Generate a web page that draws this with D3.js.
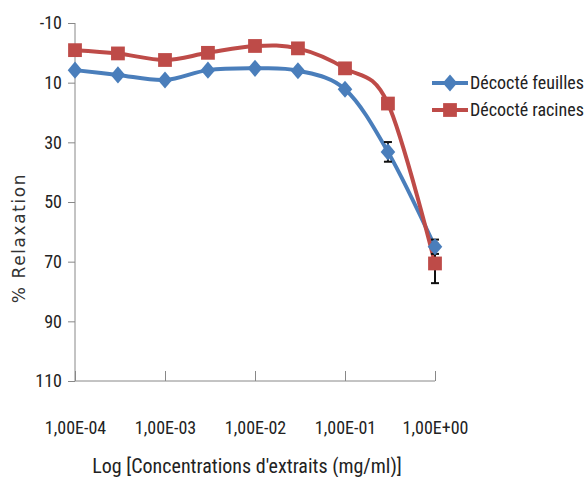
<!DOCTYPE html>
<html><head><meta charset="utf-8">
<script src="https://cdn.jsdelivr.net/npm/d3@7"></script>
<style>body{margin:0;background:#fff}</style>
</head><body>
<svg id="c" width="585" height="477"></svg>
<script>
const concentrations = [1e-4, 3e-4, 1e-3, 3e-3, 1e-2, 3e-2, 1e-1, 3e-1, 1];
const feuilles = [5.8, 7.4, 9.1, 5.8, 5.2, 6.0, 12.2, 33.2, 65.0];
const feuillesErr = [0, 0, 0, 0, 0, 0, 0, 3.3, 2.4];
const racines = [-0.9, 0.2, 2.4, 0.0, -2.3, -1.5, 5.2, 17.0, 70.6];
const racinesErr = [0, 0, 0, 0, 0, 0, 0, 0, 6.6];
const yTicks = [-10, 10, 30, 50, 70, 90, 110];
const xTicks = [1e-4, 1e-3, 1e-2, 1e-1, 1];
const xTickLabels = ["1,00E-04", "1,00E-03", "1,00E-02", "1,00E-01", "1,00E+00"];
const seriesNames = ["Décocté feuilles", "Décocté racines"];

const svg = d3.select("#c");
const narrow = "'Liberation Sans Narrow','Roboto Condensed','Open Sans',sans-serif";
const x = d3.scaleLog().domain([1e-4, 1]).range([75, 435]);
const y = d3.scaleLinear().domain([-10, 110]).range([23, 381]);

// axes
const yAxis = svg.append("g").attr("transform", "translate(75,0)")
  .call(d3.axisLeft(y).tickValues(yTicks).tickFormat(d => String(d)).tickSize(7).tickPadding(6));
yAxis.select(".domain").attr("stroke", "#888").attr("d", "M0,23V381");
yAxis.selectAll(".tick line").attr("stroke", "#888");
yAxis.selectAll("text").attr("font-family", narrow).attr("font-size", 18).attr("fill", "#222");

const xAxis = svg.append("g").attr("transform", "translate(0,381)")
  .call(d3.axisBottom(x).tickValues(xTicks).tickFormat((d, i) => xTickLabels[i]).tickSize(-10).tickPadding(40));
xAxis.select(".domain").attr("stroke", "#888").attr("d", "M75,0H435");
xAxis.selectAll(".tick line").attr("stroke", "#888");
xAxis.selectAll("text").attr("font-family", narrow).attr("font-size", 18).attr("fill", "#222");

// titles
svg.append("text").attr("x", 247).attr("y", 473).attr("text-anchor", "middle")
  .attr("font-family", narrow).attr("font-size", 20).attr("fill", "#222")
  .text("Log [Concentrations d'extraits (mg/ml)]");
svg.append("text").attr("transform", "translate(25,238) rotate(-90)").attr("text-anchor", "middle")
  .attr("font-family", "'DejaVu Sans',Verdana,sans-serif").attr("font-size", 17).attr("letter-spacing", 1.6).attr("fill", "#333")
  .text("% Relaxation");

const colors = ["#4a7ebb", "#be4b48"];
const data = [feuilles, racines];
const errs = [feuillesErr, racinesErr];
const line = d3.line().x((d, i) => x(concentrations[i])).y(d => y(d)).curve(d3.curveCardinal.tension(0));

data.forEach((s, k) => {
  svg.append("path").attr("d", line(s)).attr("fill", "none").attr("stroke", colors[k]).attr("stroke-width", 4);
});
// error bars
data.forEach((s, k) => {
  s.forEach((v, i) => {
    const e = errs[k][i];
    if (!e) return;
    const cx = x(concentrations[i]);
    const g = svg.append("g").attr("stroke", "#111").attr("stroke-width", 2);
    g.append("line").attr("x1", cx).attr("x2", cx).attr("y1", y(v - e)).attr("y2", y(v + e));
    g.append("line").attr("x1", cx - 4).attr("x2", cx + 4).attr("y1", y(v - e)).attr("y2", y(v - e));
    g.append("line").attr("x1", cx - 4).attr("x2", cx + 4).attr("y1", y(v + e)).attr("y2", y(v + e));
  });
});
const diamond = d3.symbol().type(d3.symbolDiamond2).size(150);
const square = d3.symbol().type(d3.symbolSquare).size(190);
const symbols = [diamond, square];
const symScale = ["scale(0.95,1.12)", ""];
data.forEach((s, k) => {
  svg.append("g").selectAll("path").data(s).join("path")
    .attr("transform", (d, i) => `translate(${x(concentrations[i])},${y(d)}) ${symScale[k]}`)
    .attr("d", symbols[k]()).attr("fill", colors[k]);
});

// legend
seriesNames.forEach((n, k) => {
  const ly = 83 + k * 27;
  svg.append("line").attr("x1", 432).attr("x2", 468).attr("y1", ly).attr("y2", ly)
    .attr("stroke", colors[k]).attr("stroke-width", 4);
  svg.append("path").attr("transform", `translate(450,${ly}) ${symScale[k]}`).attr("d", symbols[k]()).attr("fill", colors[k]);
  svg.append("text").attr("x", 470).attr("y", ly + 6).attr("font-family", narrow).attr("font-size", 18)
    .attr("fill", "#222").text(n);
});
</script>
</body></html>
